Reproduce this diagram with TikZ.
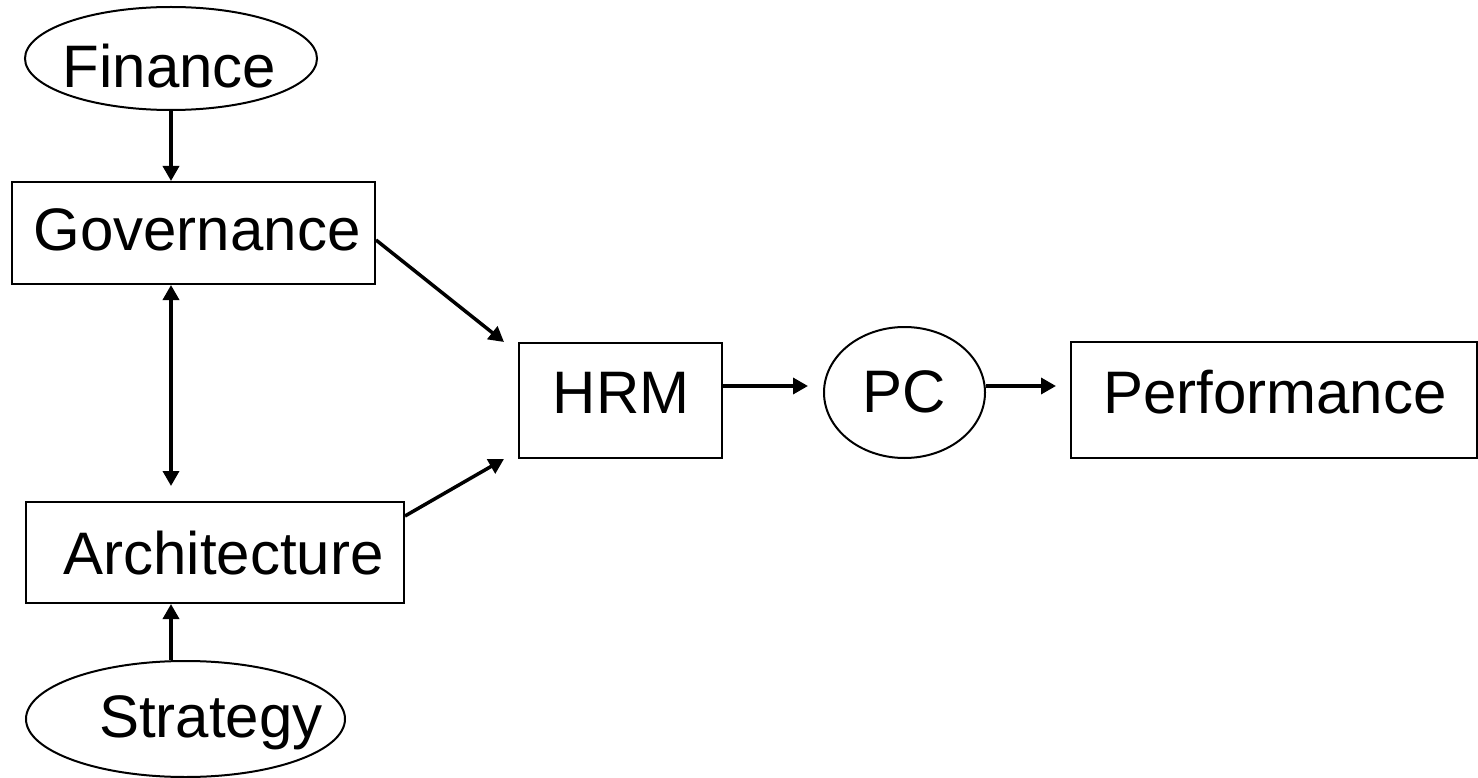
\documentclass[tikz,border=0pt]{standalone}
\usepackage{fontspec}
\setmainfont{Liberation Sans}
\usetikzlibrary{arrows.meta,shapes.geometric,calc}
\begin{document}
\begin{tikzpicture}[x=1pt,y=-1pt,
  box/.style={draw,line width=2pt,rectangle,inner sep=0pt},
  oval/.style={draw,line width=2pt,ellipse,inner sep=0pt},
  lbl/.style={anchor=base,inner sep=0pt,font=\fontsize{60}{72}\selectfont},
  conn/.style={line width=3.5pt,-{Triangle[length=15pt,width=16pt]}},
  dbl/.style={line width=3.5pt,{Triangle[length=15pt,width=16pt]}-{Triangle[length=15pt,width=16pt]}},
]
\useasboundingbox (0,0) rectangle (1478,778);
% shapes
\node[oval,minimum width=292pt,minimum height=103pt] (fin) at (171,58.5) {};
\node[box,minimum width=363pt,minimum height=102pt] (gov) at (193.5,233) {};
\node[box,minimum width=378pt,minimum height=101pt] (arch) at (215,552.5) {};
\node[oval,minimum width=319pt,minimum height=116pt] (strat) at (185.5,719) {};
\node[box,minimum width=203pt,minimum height=115pt] (hrm) at (620.5,400.5) {};
\node[oval,minimum width=161pt,minimum height=131pt] (pc) at (904.5,392.5) {};
\node[box,minimum width=406pt,minimum height=116pt] (perf) at (1274,400) {};
% texts
\node[lbl] (tfin) at (169.5,88) {Finance};
\node[lbl] (tgov) at (197,250.5) {Governance};
\node[lbl] (tarch) at (223.5,574) {Architecture};
\node[lbl] (tstrat) at (211,737) {Strategy};
\node[lbl] (thrm) at (621,413) {HRM};
\node[lbl] (tpc) at (904,412) {PC};
\node[lbl] (tperf) at (1275,413) {Performance};
% connectors
\draw[conn] (fin.south) -- (fin.south |- gov.north);
\draw[dbl,shorten >=15pt] (gov.south -| fin.south) -- (arch.north -| fin.south);
\draw[conn] (strat.north -| fin.south) -- (arch.south -| fin.south);
\draw[conn] ($(gov.east)+(0,7)$) -- ($(hrm.north west)+(-14,0)$);
\draw[conn] ($(arch.north east)+(0,15)$) -- ($(hrm.south west)+(-14,0)$);
\coordinate (h1) at ($(hrm.east)+(0,-14.5)$);
\draw[conn,shorten >=15pt] (h1) -- (h1 -| pc.west);
\draw[conn,shorten >=14pt] (h1 -| pc.east) -- (h1 -| perf.west);
\end{tikzpicture}
\end{document}
